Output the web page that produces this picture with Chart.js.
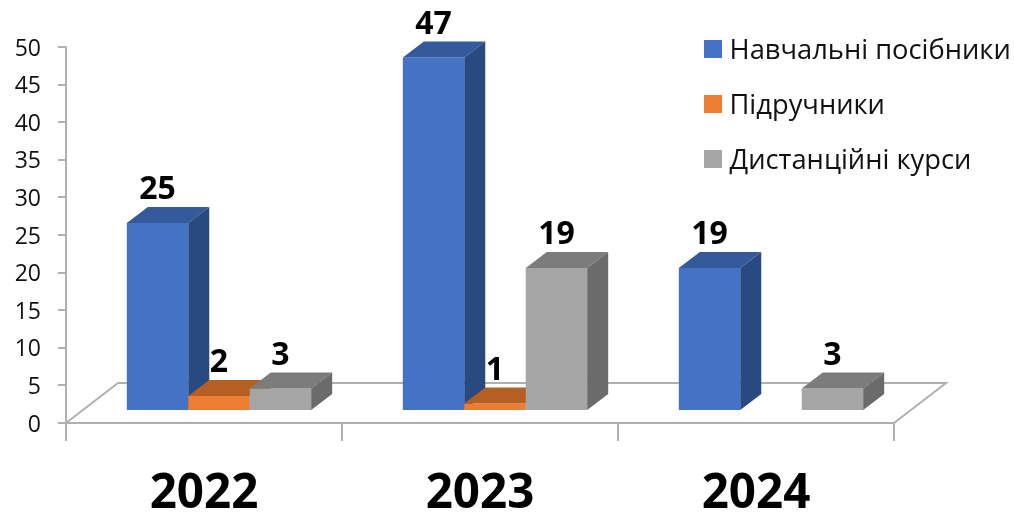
<!DOCTYPE html>
<html>
<head>
<meta charset="utf-8">
<style>
  html, body { margin: 0; padding: 0; background: #fff; }
  #wrap { width: 1014px; height: 512px; }
</style>
<script src="https://cdn.jsdelivr.net/npm/chart.js@4/dist/chart.umd.min.js"></script>
</head>
<body>
<div id="wrap"><canvas id="chart"></canvas></div>
<script>
const years = ['2022', '2023', '2024'];
const manuals = [25, 47, 19];
const textbooks = [2, 1, null];
const courses = [3, 19, 3];

const fontName = '"Open Sans", sans-serif';
const axisColor = '#b0b0b0';

// floor depth and how far the bars sit back on it
const floorDx = 52, floorDy = -40;
const barDx = 15, barDy = -12;
const depthDx = 21, depthDy = -16;

const fake3d = {
  id: 'fake3d',
  beforeDatasetsDraw(chart) {
    const { ctx, scales: { x, y } } = chart;
    const left = x.left, right = x.right, bottom = y.bottom;
    ctx.save();
    ctx.strokeStyle = axisColor;
    ctx.lineWidth = 2;
    ctx.beginPath();
    ctx.moveTo(left, bottom);
    ctx.lineTo(left + floorDx, bottom + floorDy);
    ctx.lineTo(right + floorDx, bottom + floorDy);
    ctx.lineTo(right, bottom);
    ctx.stroke();
    ctx.restore();
  },
  // chart.js paints the last dataset first, here the left bar has to go first
  beforeDatasetDraw() {
    return false;
  },
  afterDatasetsDraw(chart) {
    const { ctx } = chart;
    ctx.save();
    ctx.translate(barDx, barDy);
    chart.data.datasets.forEach((ds, d) => {
      chart.getDatasetMeta(d).data.forEach((bar, i) => {
        if (ds.data[i] == null) return;
        bar.draw(ctx);
        const l = bar.x - bar.width / 2, r = bar.x + bar.width / 2;
        ctx.fillStyle = ds.topColor;
        ctx.beginPath();
        ctx.moveTo(l, bar.y);
        ctx.lineTo(l + depthDx, bar.y + depthDy);
        ctx.lineTo(r + depthDx, bar.y + depthDy);
        ctx.lineTo(r, bar.y);
        ctx.fill();
        ctx.fillStyle = ds.sideColor;
        ctx.beginPath();
        ctx.moveTo(r, bar.y);
        ctx.lineTo(r + depthDx, bar.y + depthDy);
        ctx.lineTo(r + depthDx, bar.base + depthDy);
        ctx.lineTo(r, bar.base);
        ctx.fill();
      });
    });

    // value labels, still in the shifted coordinates
    ctx.fillStyle = '#000';
    ctx.font = 'bold 32px ' + fontName;
    ctx.textAlign = 'center';
    ctx.textBaseline = 'middle';
    chart.data.datasets.forEach((ds, d) => {
      chart.getDatasetMeta(d).data.forEach((bar, i) => {
        if (ds.data[i] == null) return;
        ctx.fillText(ds.data[i], bar.x, bar.y + depthDy - 17);
      });
    });
    ctx.restore();

    // legend
    ctx.save();
    ctx.font = '27.3px ' + fontName;
    ctx.textAlign = 'left';
    ctx.textBaseline = 'middle';
    chart.data.datasets.forEach((ds, d) => {
      const rowY = 49 + d * 55;
      ctx.fillStyle = ds.backgroundColor;
      ctx.fillRect(704, rowY - 9, 18, 18);
      ctx.fillStyle = '#111';
      ctx.fillText(ds.label, 729.5, rowY + 2);
    });
    ctx.restore();
  }
};

new Chart(document.getElementById('chart'), {
  type: 'bar',
  plugins: [fake3d],
  data: {
    labels: years,
    datasets: [
      { label: 'Навчальні посібники', data: manuals, backgroundColor: '#4472c4', sideColor: '#294a80', topColor: '#345a9c' },
      { label: 'Підручники', data: textbooks, backgroundColor: '#ed7d31', sideColor: '#a85a24', topColor: '#b55f22' },
      { label: 'Дистанційні курси', data: courses, backgroundColor: '#a5a5a5', sideColor: '#6b6b6b', topColor: '#7c7c7c' }
    ]
  },
  options: {
    responsive: true,
    maintainAspectRatio: false,
    animation: false,
    layout: { padding: { top: 47, right: 120, left: 0, bottom: 0 } },
    datasets: { bar: { categoryPercentage: 0.668, barPercentage: 1 } },
    plugins: { legend: { display: false }, tooltip: { enabled: false } },
    scales: {
      x: {
        afterFit(scale) { scale.height = 89; },
        grid: { drawOnChartArea: false, color: axisColor, lineWidth: 2, tickLength: 18 },
        border: { color: axisColor, width: 2 },
        ticks: { color: '#000', padding: 25, font: { family: fontName, size: 47.5, weight: 'bold' } }
      },
      y: {
        min: 0,
        max: 50,
        afterFit(scale) { scale.width = 66; },
        grid: { drawOnChartArea: false, color: axisColor, lineWidth: 2, tickLength: 8 },
        border: { color: axisColor, width: 2 },
        ticks: { stepSize: 5, color: '#111', padding: 17, labelOffset: 2, font: { family: fontName, size: 23 } }
      }
    }
  }
});
</script>
</body>
</html>
